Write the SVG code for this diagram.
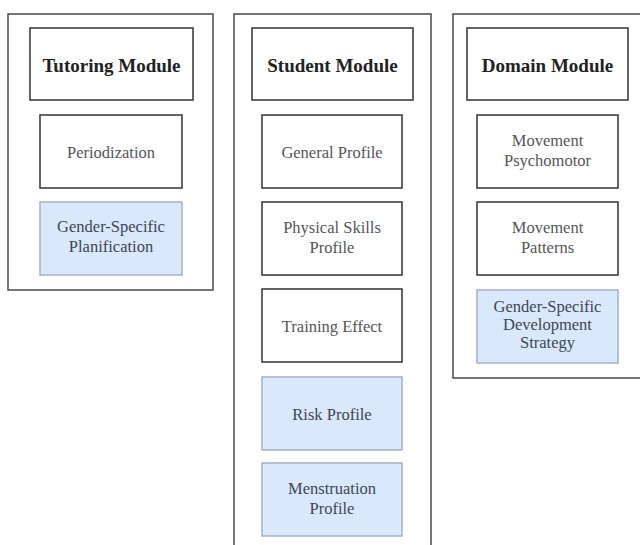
<svg xmlns="http://www.w3.org/2000/svg" width="640" height="545" viewBox="0 0 640 545">
<style>
.outer{fill:#fff;stroke:#4a4a4a;stroke-width:1.5}
.box{fill:#fff;stroke:#333;stroke-width:1.5}
.blue{fill:#dae8fc;stroke:#a3b2c6;stroke-width:1.5}
.title{font-family:"Liberation Serif","Times New Roman",serif;font-weight:bold;font-size:19px;fill:#222;text-anchor:middle}
.lbl{font-family:"Liberation Serif","Times New Roman",serif;font-size:16.5px;fill:#555;text-anchor:middle}
.blbl{font-family:"Liberation Serif","Times New Roman",serif;font-size:16.5px;fill:#3d4655;text-anchor:middle}
</style>
<rect width="640" height="545" fill="#fff"/>
<g id="tutoring-module">
<rect class="outer" x="8" y="14" width="205" height="276"/>
<g id="tutoring-title"><rect class="box" x="30" y="28" width="163" height="72"/><text class="title" x="111.5" y="71.5">Tutoring Module</text></g>
<g id="periodization"><rect class="box" x="40" y="115" width="142" height="73"/><text class="lbl" x="111" y="158">Periodization</text></g>
<g id="gender-planification"><rect class="blue" x="40" y="202" width="142" height="73"/><text class="blbl" x="111" y="232">Gender-Specific</text><text class="blbl" x="111" y="252">Planification</text></g>
</g>
<g id="student-module">
<rect class="outer" x="234" y="14" width="197" height="545"/>
<g id="student-title"><rect class="box" x="252" y="28" width="161" height="72"/><text class="title" x="332.5" y="71.5">Student Module</text></g>
<g id="general-profile"><rect class="box" x="262" y="115" width="140" height="73"/><text class="lbl" x="332" y="158">General Profile</text></g>
<g id="physical-skills-profile"><rect class="box" x="262" y="202" width="140" height="73"/><text class="lbl" x="332" y="233">Physical Skills</text><text class="lbl" x="332" y="253">Profile</text></g>
<g id="training-effect"><rect class="box" x="262" y="289" width="140" height="73"/><text class="lbl" x="332" y="332">Training Effect</text></g>
<g id="risk-profile"><rect class="blue" x="262" y="377" width="140" height="73"/><text class="blbl" x="332" y="420">Risk Profile</text></g>
<g id="menstruation-profile"><rect class="blue" x="262" y="463" width="140" height="73"/><text class="blbl" x="332" y="494">Menstruation</text><text class="blbl" x="332" y="514">Profile</text></g>
</g>
<g id="domain-module">
<rect class="outer" x="453" y="14" width="200" height="364"/>
<g id="domain-title"><rect class="box" x="467" y="28" width="161" height="72"/><text class="title" x="547.5" y="71.5">Domain Module</text></g>
<g id="movement-psychomotor"><rect class="box" x="477" y="115" width="141" height="73"/><text class="lbl" x="547.5" y="146">Movement</text><text class="lbl" x="547.5" y="166">Psychomotor</text></g>
<g id="movement-patterns"><rect class="box" x="477" y="202" width="141" height="73"/><text class="lbl" x="547.5" y="233">Movement</text><text class="lbl" x="547.5" y="253">Patterns</text></g>
<g id="gender-development-strategy"><rect class="blue" x="477" y="290" width="141" height="73"/><text class="blbl" x="547.5" y="312">Gender-Specific</text><text class="blbl" x="547.5" y="330">Development</text><text class="blbl" x="547.5" y="348">Strategy</text></g>
</g>
<g id="connectors"/>
</svg>
